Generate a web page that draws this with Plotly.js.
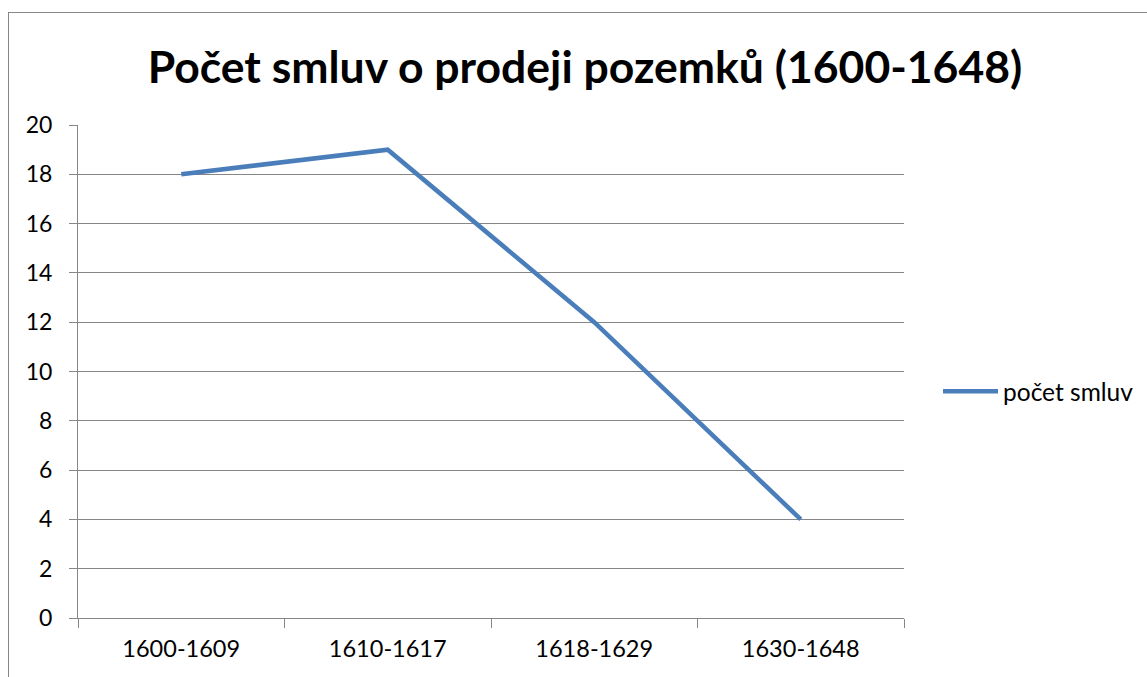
<!DOCTYPE html>
<html><head><meta charset="utf-8">
<script src="https://cdn.plot.ly/plotly-3.0.1.min.js"></script>
<style>
html,body{margin:0;padding:0;background:#fff;overflow:hidden;}
#frame{position:absolute;left:8px;top:12px;width:1300px;height:800px;border-left:1px solid #868686;border-top:1px solid #868686;pointer-events:none;z-index:5;}
#chart{position:absolute;left:0;top:0;width:1147px;height:677px;}
</style></head>
<body>
<div id="chart"></div><div id="frame"></div>
<script>
const categories = ["1600-1609", "1610-1617", "1618-1629", "1630-1648"];
const values = [18, 19, 12, 4];
const seriesName = "počet smluv";
const titleText = "Počet smluv o prodeji pozemků (1600-1648)";

const font = "Lato, 'Open Sans', sans-serif";
const trace = {
  x: categories, y: values, type: "scatter", mode: "lines", name: seriesName,
  line: {color: "#4a7ebb", width: 4.5}
};
const layout = {
  width: 1147, height: 677,
  margin: {l: 78, r: 243, t: 125, b: 59},
  paper_bgcolor: "#fff", plot_bgcolor: "#fff",
  font: {family: font, size: 23, color: "#000"},
  title: {text: "<b>" + titleText + "</b>", x: 0.51, xanchor: "center", y: 0.9, yanchor: "middle",
          font: {family: font, size: 44.5, color: "#000"}},
  xaxis: {type: "category", range: [-0.5, categories.length - 0.5], tickson: "boundaries",
          ticks: "outside", ticklen: 9, tickcolor: "#868686", ticklabelstandoff: 10,
          showline: true, linecolor: "#868686", linewidth: 1, showgrid: false, zeroline: false,
          tickfont: {size: 23.5}},
  yaxis: {range: [0, 20], dtick: 2, ticks: "outside", ticklen: 8, tickcolor: "#868686",
          ticklabelstandoff: 12,
          showline: true, linecolor: "#868686", linewidth: 1, gridcolor: "#868686", gridwidth: 1,
          zeroline: false, tickfont: {size: 23}},
  showlegend: true,
  legend: {xref: "container", yref: "container", x: 0.8178, xanchor: "left", y: 0.422, yanchor: "middle",
           itemwidth: 55, font: {size: 24.5}, bgcolor: "rgba(0,0,0,0)"}
};
Plotly.newPlot("chart", [trace], layout, {displayModeBar: false, staticPlot: true});
</script>
</body></html>
